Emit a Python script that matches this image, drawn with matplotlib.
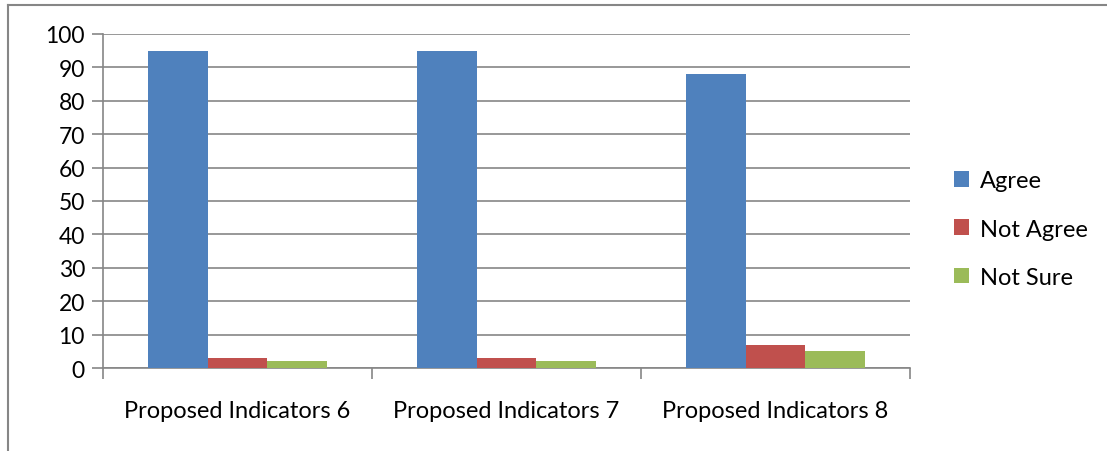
import numpy as np
import matplotlib
matplotlib.use("Agg")
import matplotlib.pyplot as plt
from matplotlib.lines import Line2D

plt.rcParams["font.family"] = ["Lato", "DejaVu Sans"]

categories = ["Proposed Indicators 6", "Proposed Indicators 7", "Proposed Indicators 8"]
series_names = ["Agree", "Not Agree", "Not Sure"]
agree = [95, 95, 88]
not_agree = [3, 3, 7]
not_sure = [2, 2, 5]
colors = ["#4F81BD", "#C0504D", "#9BBB59"]
grid_color = "#868686"

fig = plt.figure(figsize=(11.07, 4.52), dpi=100)
ax = fig.add_axes([0.093, 0.1836, 0.729, 0.739])

x = np.arange(len(categories))
width = 1 / 4.5
for i, (name, vals) in enumerate(zip(series_names, [agree, not_agree, not_sure])):
    ax.bar(x + (i - 1) * width, vals, width=width, color=colors[i], label=name, zorder=3)

ax.set_xlim(-0.5, len(categories) - 0.5)
ax.set_ylim(0, 100)
ax.set_yticks(range(0, 101, 10))
ax.yaxis.grid(True, color=grid_color, linewidth=1.2, zorder=0)
ax.set_axisbelow(True)

ax.set_xticks(x)
ax.set_xticklabels(categories)
ax.set_xticks(np.arange(-0.5, len(categories), 1.0), minor=True)
ax.tick_params(axis="x", which="major", length=0, pad=23, labelsize=17)
ax.tick_params(axis="x", which="minor", length=8, color=grid_color, width=1.2)
ax.tick_params(axis="y", length=8, color=grid_color, width=1.2, labelsize=16.5, pad=5)

for side in ["top", "right"]:
    ax.spines[side].set_visible(False)
for side in ["left", "bottom"]:
    ax.spines[side].set_color(grid_color)
    ax.spines[side].set_linewidth(1.2)

ax.legend(loc="center left", bbox_to_anchor=(1.054, 0.416), frameon=False,
          fontsize=17, handlelength=0.65, handleheight=0.65, handletextpad=0.45,
          labelspacing=1.15, borderaxespad=0, borderpad=0)

# outer chart frame
frame_kw = dict(color=grid_color, linewidth=1.5, transform=fig.transFigure)
fig.add_artist(Line2D([0.0075, 0.0075], [0, 0.987], **frame_kw))
fig.add_artist(Line2D([0.0075, 1.0], [0.987, 0.987], **frame_kw))

fig.savefig("out.png", dpi=100)
